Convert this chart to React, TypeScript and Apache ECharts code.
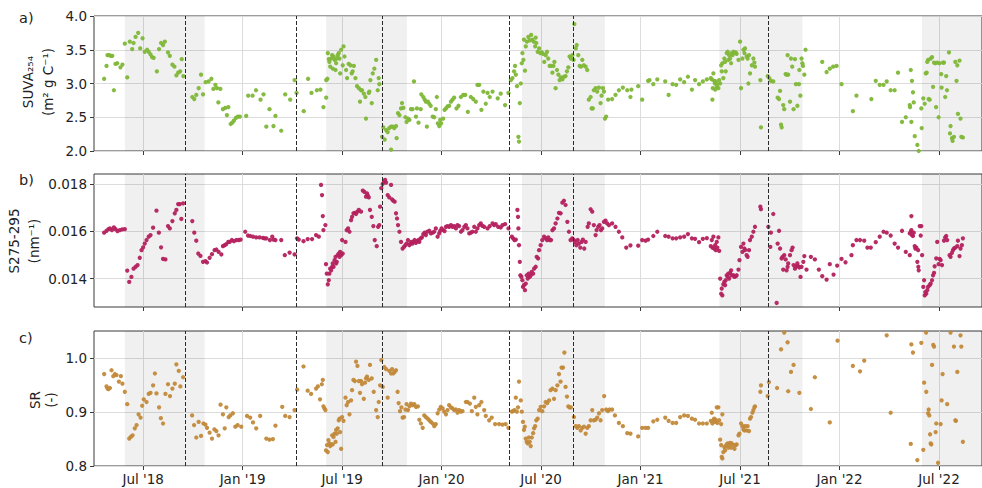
import React, { useEffect, useRef } from "react";
import * as echarts from "echarts";

// Time is expressed in decimal years
const xMin = 2018.253;
const xMax = 2022.716;
const xTickValues = [2018.5, 2019, 2019.5, 2020, 2020.5, 2021, 2021.5, 2022, 2022.5];
const shadedPeriods: [number, number][] = [
  [2018.408, 2018.809],
  [2019.42, 2019.826],
  [2020.404, 2020.821],
  [2021.396, 2021.814],
  [2022.414, 2022.716],
];
const dashedDates = [2018.706, 2019.266, 2019.697, 2020.337, 2020.661, 2021.644];

const suvaTicks = [2.0, 2.5, 3.0, 3.5, 4.0];
const slopeTicks = [0.014, 0.016, 0.018];
const srTicks = [0.8, 0.9, 1.0];

const suvaData: [number, number][] = [
  [2018.304,3.07],[2018.316,3.26],[2018.321,3.42],[2018.330,3.42],[2018.338,3.41],[2018.345,3.41],[2018.353,2.90],[2018.361,3.29],[2018.370,3.30],[2018.386,3.24],[2018.396,3.28],[2018.408,3.59],[2018.420,3.09],[2018.433,3.62],[2018.445,3.51],[2018.452,3.60],[2018.462,3.69],[2018.475,3.75],[2018.485,3.52],[2018.497,3.67],[2018.508,3.47],[2018.520,3.50],[2018.528,3.47],[2018.537,3.43],[2018.545,3.39],[2018.553,3.38],[2018.569,3.18],[2018.580,3.51],[2018.590,3.60],[2018.600,3.57],[2018.609,3.62],[2018.625,3.46],[2018.634,3.41],[2018.647,3.28],[2018.657,3.25],[2018.667,3.12],[2018.676,3.16],[2018.686,3.18],[2018.694,3.36],[2018.702,3.11],
  [2018.747,2.80],[2018.757,2.77],[2018.767,2.83],[2018.779,2.93],[2018.791,3.13],[2018.801,2.84],[2018.814,3.02],[2018.829,3.03],[2018.843,3.07],[2018.853,2.92],[2018.863,2.98],[2018.871,2.93],[2018.878,2.72],[2018.888,2.92],[2018.901,2.62],[2018.913,2.64],[2018.921,2.53],[2018.928,2.65],[2018.940,2.40],[2018.948,2.42],[2018.956,2.45],[2018.966,2.49],[2018.976,2.51],[2018.986,2.51],[2019.018,2.52],[2019.028,2.82],[2019.050,2.82],[2019.067,2.90],[2019.090,2.76],[2019.105,2.84],[2019.119,2.36],[2019.135,2.62],[2019.155,2.37],[2019.165,2.52],[2019.194,2.30],[2019.214,2.84],[2019.239,2.76],[2019.261,3.05],[2019.271,2.86],[2019.307,2.59],[2019.329,3.07],[2019.346,2.86],[2019.373,2.90],[2019.391,2.91],
  [2019.406,2.65],[2019.420,3.05],[2019.420,2.79],[2019.426,3.07],[2019.428,3.45],[2019.433,3.36],[2019.436,3.32],[2019.440,3.25],[2019.445,3.37],[2019.450,3.42],[2019.453,3.22],[2019.457,3.40],[2019.462,3.35],[2019.467,3.20],[2019.470,3.30],[2019.473,3.37],[2019.478,3.42],[2019.483,3.45],[2019.487,3.37],[2019.490,3.15],[2019.495,3.50],[2019.503,3.27],[2019.507,3.55],[2019.512,3.40],[2019.520,3.20],[2019.525,3.08],[2019.533,3.29],[2019.542,3.27],[2019.548,3.15],[2019.553,3.18],[2019.559,3.26],[2019.567,3.08],[2019.575,2.96],[2019.584,2.93],[2019.590,2.73],[2019.595,2.90],[2019.600,2.90],[2019.609,2.85],[2019.617,2.80],[2019.620,2.48],[2019.634,2.86],[2019.637,2.88],[2019.642,3.05],[2019.649,2.71],[2019.654,3.15],[2019.662,3.22],[2019.671,3.35],[2019.679,2.90],[2019.684,3.08],[2019.687,2.99],
  [2019.701,2.21],[2019.707,2.35],[2019.714,2.17],[2019.721,2.31],[2019.729,2.28],[2019.737,2.34],[2019.746,2.36],[2019.754,2.36],[2019.762,2.34],[2019.771,2.37],[2019.774,2.19],[2019.746,2.02],[2019.781,2.56],[2019.788,2.53],[2019.796,2.63],[2019.801,2.71],[2019.808,2.64],[2019.818,2.50],[2019.824,2.43],[2019.831,2.48],[2019.838,2.46],[2019.846,2.62],[2019.854,2.62],[2019.861,3.03],[2019.871,2.51],[2019.876,2.63],[2019.884,2.42],[2019.895,2.62],[2019.898,2.84],[2019.908,2.80],[2019.915,2.76],[2019.921,2.73],[2019.926,2.36],[2019.931,2.73],[2019.938,2.70],[2019.945,2.67],[2019.955,2.51],[2019.963,2.50],[2019.971,2.62],[2019.976,2.80],[2019.981,2.41],[2019.988,2.37],[2019.993,2.46],[2019.998,2.41],[2020.008,2.48],[2020.015,2.61],[2020.022,2.63],[2020.030,2.66],[2020.038,2.67],[2020.047,2.73],[2020.055,2.76],[2020.063,2.79],[2020.075,2.63],[2020.085,2.67],[2020.097,2.80],[2020.109,2.83],[2020.119,2.83],[2020.132,2.58],[2020.147,2.80],[2020.159,2.77],[2020.172,2.73],[2020.180,2.98],[2020.189,2.98],[2020.200,2.61],[2020.210,2.88],[2020.222,2.70],[2020.231,2.86],[2020.242,2.80],[2020.256,2.88],[2020.282,2.78],[2020.297,2.85],[2020.319,2.68],[2020.336,2.86],
  [2020.348,3.05],[2020.356,3.08],[2020.364,3.18],[2020.369,3.26],[2020.373,3.13],[2020.379,2.96],[2020.386,2.21],[2020.389,2.14],[2020.393,2.71],[2020.398,3.00],[2020.403,3.30],[2020.406,3.45],[2020.411,3.35],[2020.414,3.65],[2020.419,3.19],[2020.423,3.55],[2020.429,3.62],[2020.436,3.69],[2020.443,3.64],[2020.450,3.72],[2020.456,3.65],[2020.463,3.62],[2020.470,3.55],[2020.473,3.68],[2020.476,3.60],[2020.483,3.47],[2020.490,3.52],[2020.496,3.45],[2020.503,3.46],[2020.510,3.44],[2020.516,3.32],[2020.523,3.42],[2020.530,3.47],[2020.536,3.37],[2020.543,3.26],[2020.550,3.26],[2020.557,3.16],[2020.562,3.26],[2020.567,3.32],[2020.573,2.93],[2020.580,3.20],[2020.587,3.13],[2020.593,3.05],[2020.600,3.09],[2020.607,3.06],[2020.615,3.10],[2020.623,3.11],[2020.630,3.18],[2020.637,3.24],[2020.643,3.40],[2020.650,3.37],[2020.657,3.42],[2020.663,3.35],[2020.667,3.88],[2020.674,3.52],[2020.679,3.57],[2020.687,3.42],[2020.694,3.26],[2020.700,3.25],[2020.707,3.35],[2020.715,3.27],[2020.724,3.25],[2020.732,3.20],
  [2020.740,2.76],[2020.749,2.80],[2020.754,2.63],[2020.760,2.63],[2020.765,2.90],[2020.774,2.93],[2020.782,2.88],[2020.791,2.94],[2020.799,2.71],[2020.804,2.82],[2020.811,2.93],[2020.816,2.88],[2020.821,2.48],[2020.827,2.51],[2020.837,2.76],[2020.857,2.77],[2020.874,2.83],[2020.891,2.90],[2020.911,2.94],[2020.933,2.90],[2020.949,2.80],[2020.954,2.91],[2020.988,2.96],[2021.008,2.76],[2021.038,3.04],
  [2021.045,3.05],[2021.064,2.99],[2021.084,3.06],[2021.124,3.03],[2021.141,2.83],[2021.161,2.99],[2021.179,2.98],[2021.199,3.06],[2021.219,3.02],[2021.238,3.10],[2021.258,2.91],[2021.274,3.05],[2021.294,2.99],[2021.313,3.03],[2021.333,3.06],[2021.353,3.08],[2021.358,3.06],[2021.361,2.76],[2021.363,2.93],[2021.366,3.15],[2021.370,3.04],[2021.373,3.00],[2021.375,2.91],[2021.378,3.03],[2021.383,2.95],[2021.386,2.99],[2021.391,2.93],[2021.395,3.05],[2021.400,3.00],[2021.405,3.27],[2021.408,3.18],[2021.411,3.30],[2021.416,3.08],[2021.421,3.37],[2021.425,3.32],[2021.428,3.18],[2021.433,3.45],[2021.438,3.47],[2021.441,3.35],[2021.445,3.42],[2021.450,3.37],[2021.455,3.30],[2021.458,3.45],[2021.462,3.42],[2021.467,3.47],[2021.472,3.45],[2021.478,3.46],[2021.483,3.44],[2021.492,3.35],[2021.500,3.62],[2021.505,2.93],[2021.512,3.37],[2021.517,3.50],[2021.522,3.45],[2021.525,3.52],[2021.533,3.40],[2021.538,3.37],[2021.542,3.00],[2021.545,3.42],[2021.550,3.15],[2021.559,3.27],[2021.567,3.37],[2021.572,3.31],[2021.575,3.25],[2021.602,3.05],[2021.605,2.35],[2021.639,3.11],
  [2021.647,3.08],[2021.655,3.04],[2021.667,3.03],[2021.689,2.79],[2021.696,2.77],[2021.701,2.89],[2021.706,2.39],[2021.709,2.35],[2021.717,2.68],[2021.722,2.62],[2021.729,3.14],[2021.734,3.13],[2021.739,3.42],[2021.742,3.13],[2021.751,2.73],[2021.756,3.37],[2021.762,3.25],[2021.769,2.62],[2021.776,3.36],[2021.781,2.99],[2021.788,2.67],[2021.796,2.99],[2021.798,3.20],[2021.803,2.82],[2021.809,3.37],[2021.813,3.30],[2021.816,3.26],[2021.823,3.13],[2021.829,3.50],[2021.913,3.32],[2021.935,3.17],[2021.951,3.22],[2021.968,3.25],[2021.985,3.26],[2022.010,2.99],[2022.067,2.59],[2022.085,2.82],[2022.160,2.77],[2022.182,3.04],[2022.202,2.98],[2022.221,2.98],[2022.237,3.03],[2022.257,2.90],[2022.277,2.90],[2022.294,3.16],[2022.314,2.43],[2022.333,2.50],
  [2022.353,2.68],[2022.354,2.65],[2022.358,3.20],[2022.361,2.43],[2022.364,3.04],[2022.369,2.87],[2022.373,2.72],[2022.378,2.22],[2022.391,2.09],[2022.398,2.00],[2022.411,2.63],[2022.413,2.34],[2022.421,2.78],[2022.428,2.70],[2022.433,3.15],[2022.438,3.16],[2022.441,3.32],[2022.445,3.35],[2022.448,2.77],[2022.453,2.76],[2022.458,3.37],[2022.465,3.39],[2022.470,2.95],[2022.475,3.31],[2022.481,3.30],[2022.485,2.65],[2022.491,3.31],[2022.498,2.50],[2022.503,3.30],[2022.511,3.14],[2022.513,2.94],[2022.520,3.31],[2022.525,3.31],[2022.531,2.80],[2022.536,3.11],[2022.540,2.90],[2022.550,3.46],[2022.555,2.26],[2022.558,2.37],[2022.565,2.19],[2022.568,2.15],[2022.575,2.21],[2022.582,3.32],[2022.588,3.04],[2022.592,3.27],[2022.595,2.55],[2022.603,3.34],[2022.608,2.48],[2022.612,2.21],[2022.620,2.20],
];

const slopeData: [number, number][] = [
  [2018.304,0.01594],[2018.316,0.01602],[2018.326,0.01609],[2018.333,0.01612],[2018.343,0.01605],[2018.353,0.01616],[2018.361,0.01609],[2018.371,0.01601],[2018.383,0.01605],[2018.395,0.01608],[2018.408,0.01609],[2018.420,0.01434],[2018.430,0.01386],[2018.441,0.01407],[2018.452,0.01442],[2018.462,0.01450],[2018.472,0.01457],[2018.483,0.01488],[2018.492,0.01520],[2018.500,0.01532],[2018.508,0.01548],[2018.517,0.01563],[2018.528,0.01577],[2018.537,0.01584],[2018.550,0.01615],[2018.567,0.01687],[2018.579,0.01594],[2018.590,0.01532],[2018.600,0.01483],[2018.612,0.01481],[2018.625,0.01622],[2018.634,0.01612],[2018.647,0.01643],[2018.659,0.01676],[2018.667,0.01690],[2018.676,0.01715],[2018.684,0.01715],[2018.692,0.01652],[2018.701,0.01718],
  [2018.747,0.01643],[2018.757,0.01594],[2018.767,0.01560],[2018.777,0.01506],[2018.788,0.01496],[2018.801,0.01471],[2018.813,0.01474],[2018.821,0.01468],[2018.834,0.01488],[2018.846,0.01503],[2018.859,0.01520],[2018.868,0.01523],[2018.879,0.01513],[2018.893,0.01502],[2018.901,0.01537],[2018.910,0.01541],[2018.918,0.01546],[2018.928,0.01555],[2018.935,0.01555],[2018.946,0.01563],[2018.956,0.01558],[2018.968,0.01563],[2018.980,0.01563],[2018.990,0.01565],[2019.013,0.01598],[2019.027,0.01582],[2019.038,0.01580],[2019.052,0.01577],[2019.068,0.01574],[2019.085,0.01574],[2019.102,0.01572],[2019.110,0.01570],[2019.119,0.01570],[2019.137,0.01563],[2019.149,0.01577],[2019.155,0.01565],[2019.165,0.01563],[2019.194,0.01563],[2019.212,0.01499],[2019.236,0.01510],[2019.261,0.01502],[2019.274,0.01570],[2019.282,0.01565],[2019.306,0.01558],[2019.327,0.01567],[2019.349,0.01567],[2019.369,0.01584],[2019.383,0.01577],[2019.394,0.01796],[2019.399,0.01753],[2019.403,0.01664],[2019.406,0.01605],[2019.416,0.01626],[2019.419,0.01461],[2019.423,0.01421],[2019.428,0.01376],
  [2019.433,0.01393],[2019.436,0.01421],[2019.440,0.01442],[2019.445,0.01435],[2019.450,0.01450],[2019.453,0.01464],[2019.457,0.01450],[2019.462,0.01478],[2019.467,0.01492],[2019.470,0.01464],[2019.473,0.01471],[2019.478,0.01499],[2019.483,0.01506],[2019.487,0.01492],[2019.490,0.01513],[2019.495,0.01499],[2019.500,0.01563],[2019.503,0.01506],[2019.517,0.01555],[2019.523,0.01605],[2019.530,0.01612],[2019.537,0.01598],[2019.545,0.01647],[2019.550,0.01661],[2019.557,0.01676],[2019.564,0.01678],[2019.570,0.01673],[2019.577,0.01683],[2019.584,0.01690],[2019.595,0.01683],[2019.604,0.01772],[2019.612,0.01766],[2019.620,0.01746],[2019.625,0.01760],[2019.629,0.01752],[2019.634,0.01743],[2019.640,0.01690],[2019.649,0.01661],[2019.657,0.01622],[2019.664,0.01563],[2019.674,0.01537],[2019.681,0.01619],[2019.687,0.01626],[2019.691,0.01704],
  [2019.697,0.01782],[2019.704,0.01800],[2019.711,0.01810],[2019.716,0.01817],[2019.721,0.01806],[2019.729,0.01753],[2019.737,0.01743],[2019.746,0.01796],[2019.751,0.01735],[2019.757,0.01729],[2019.764,0.01725],[2019.771,0.01676],[2019.776,0.01654],[2019.781,0.01626],[2019.788,0.01598],[2019.796,0.01555],[2019.804,0.01527],[2019.811,0.01534],[2019.818,0.01541],[2019.824,0.01548],[2019.831,0.01563],[2019.838,0.01541],[2019.843,0.01548],[2019.848,0.01555],[2019.854,0.01548],[2019.859,0.01555],[2019.864,0.01563],[2019.871,0.01551],[2019.876,0.01558],[2019.883,0.01563],[2019.888,0.01555],[2019.895,0.01570],[2019.901,0.01574],[2019.908,0.01588],[2019.915,0.01594],[2019.921,0.01584],[2019.928,0.01598],[2019.938,0.01602],[2019.946,0.01591],[2019.955,0.01594],[2019.963,0.01598],[2019.971,0.01612],[2019.980,0.01577],[2019.988,0.01591],[2019.993,0.01602],[2020.000,0.01612],[2020.008,0.01605],[2020.015,0.01601],[2020.022,0.01619],[2020.030,0.01622],[2020.038,0.01619],[2020.047,0.01626],[2020.055,0.01619],[2020.063,0.01622],[2020.072,0.01612],[2020.080,0.01626],[2020.088,0.01622],[2020.097,0.01598],[2020.105,0.01605],[2020.114,0.01619],[2020.122,0.01626],[2020.130,0.01612],[2020.139,0.01591],[2020.147,0.01594],[2020.155,0.01598],[2020.164,0.01619],[2020.172,0.01598],[2020.180,0.01612],[2020.189,0.01626],[2020.197,0.01633],[2020.205,0.01623],[2020.214,0.01619],[2020.231,0.01612],[2020.242,0.01622],[2020.256,0.01633],[2020.264,0.01626],[2020.272,0.01630],[2020.284,0.01619],[2020.297,0.01616],[2020.306,0.01626],[2020.319,0.01630],[2020.336,0.01612],
  [2020.353,0.01577],[2020.359,0.01570],[2020.366,0.01563],[2020.373,0.01565],[2020.381,0.01690],[2020.384,0.01661],[2020.386,0.01612],[2020.389,0.01541],[2020.393,0.01471],[2020.396,0.01414],[2020.401,0.01407],[2020.406,0.01393],[2020.409,0.01365],[2020.414,0.01372],[2020.419,0.01351],[2020.423,0.01379],[2020.428,0.01414],[2020.433,0.01400],[2020.438,0.01421],[2020.443,0.01407],[2020.448,0.01414],[2020.453,0.01428],[2020.460,0.01421],[2020.465,0.01442],[2020.473,0.01450],[2020.478,0.01492],[2020.485,0.01485],[2020.490,0.01520],[2020.498,0.01541],[2020.506,0.01563],[2020.515,0.01577],[2020.523,0.01570],[2020.530,0.01563],[2020.536,0.01574],[2020.543,0.01563],[2020.550,0.01563],[2020.557,0.01605],[2020.565,0.01612],[2020.573,0.01633],[2020.582,0.01654],[2020.590,0.01678],[2020.598,0.01676],[2020.607,0.01721],[2020.615,0.01729],[2020.623,0.01711],[2020.632,0.01640],[2020.640,0.01598],[2020.648,0.01563],[2020.657,0.01570],
  [2020.665,0.01563],[2020.670,0.01555],[2020.677,0.01541],[2020.684,0.01563],[2020.690,0.01548],[2020.697,0.01531],[2020.704,0.01555],[2020.710,0.01565],[2020.717,0.01527],[2020.724,0.01555],[2020.734,0.01619],[2020.740,0.01633],[2020.749,0.01693],[2020.757,0.01683],[2020.765,0.01626],[2020.774,0.01584],[2020.779,0.01605],[2020.787,0.01619],[2020.794,0.01626],[2020.801,0.01605],[2020.807,0.01612],[2020.816,0.01640],[2020.824,0.01645],[2020.832,0.01633],[2020.841,0.01626],[2020.857,0.01633],[2020.874,0.01619],[2020.891,0.01598],[2020.908,0.01574],[2020.928,0.01531],[2020.949,0.01540],[2020.988,0.01539],[2021.008,0.01563],[2021.025,0.01560],[2021.038,0.01565],
  [2021.064,0.01580],[2021.084,0.01598],[2021.124,0.01580],[2021.141,0.01577],[2021.161,0.01570],[2021.179,0.01570],[2021.199,0.01574],[2021.219,0.01577],[2021.238,0.01588],[2021.258,0.01570],[2021.274,0.01568],[2021.294,0.01554],[2021.313,0.01568],[2021.333,0.01571],[2021.353,0.01537],[2021.358,0.01563],[2021.361,0.01531],[2021.366,0.01577],[2021.370,0.01527],[2021.375,0.01541],[2021.378,0.01520],[2021.383,0.01555],[2021.386,0.01531],[2021.391,0.01574],[2021.395,0.01517],[2021.400,0.01400],[2021.405,0.01336],[2021.408,0.01358],[2021.411,0.01329],[2021.416,0.01376],[2021.421,0.01386],[2021.425,0.01372],[2021.428,0.01393],[2021.433,0.01414],[2021.438,0.01407],[2021.441,0.01421],[2021.445,0.01400],[2021.450,0.01424],[2021.455,0.01435],[2021.458,0.01414],[2021.467,0.01414],[2021.472,0.01407],[2021.478,0.01410],[2021.483,0.01414],[2021.492,0.01438],[2021.497,0.01478],[2021.505,0.01534],[2021.512,0.01513],[2021.517,0.01548],[2021.522,0.01527],[2021.525,0.01520],[2021.533,0.01499],[2021.538,0.01492],[2021.545,0.01520],[2021.550,0.01563],[2021.559,0.01577],[2021.567,0.01598],[2021.575,0.01619],[2021.602,0.01704],[2021.605,0.01693],
  [2021.642,0.01619],[2021.652,0.01534],[2021.655,0.01594],[2021.667,0.01673],[2021.684,0.01297],[2021.689,0.01548],[2021.696,0.01602],[2021.701,0.01527],[2021.709,0.01485],[2021.714,0.01492],[2021.717,0.01438],[2021.722,0.01499],[2021.729,0.01481],[2021.734,0.01435],[2021.739,0.01450],[2021.742,0.01464],[2021.751,0.01499],[2021.759,0.01520],[2021.764,0.01531],[2021.769,0.01457],[2021.776,0.01442],[2021.781,0.01452],[2021.788,0.01464],[2021.793,0.01452],[2021.798,0.01447],[2021.804,0.01407],[2021.809,0.01450],[2021.818,0.01471],[2021.823,0.01495],[2021.834,0.01438],[2021.856,0.01492],[2021.876,0.01481],[2021.896,0.01438],[2021.913,0.01410],[2021.935,0.01396],[2021.951,0.01461],[2021.970,0.01417],[2021.988,0.01455],[2022.010,0.01483],[2022.030,0.01469],[2022.060,0.01499],[2022.067,0.01541],[2022.085,0.01563],[2022.103,0.01563],[2022.124,0.01560],[2022.140,0.01531],[2022.157,0.01531],[2022.182,0.01554],[2022.202,0.01577],[2022.221,0.01598],[2022.237,0.01594],[2022.257,0.01582],[2022.277,0.01548],[2022.294,0.01531],[2022.314,0.01602],[2022.333,0.01513],
  [2022.353,0.01591],[2022.353,0.01499],[2022.358,0.01598],[2022.361,0.01605],[2022.361,0.01664],[2022.364,0.01584],[2022.369,0.01580],[2022.373,0.01594],[2022.378,0.01537],[2022.381,0.01527],[2022.386,0.01531],[2022.391,0.01471],[2022.395,0.01520],[2022.396,0.01450],[2022.398,0.01435],[2022.403,0.01622],[2022.408,0.01582],[2022.411,0.01622],[2022.415,0.01499],[2022.421,0.01365],[2022.425,0.01393],[2022.428,0.01329],[2022.431,0.01343],[2022.436,0.01336],[2022.441,0.01351],[2022.445,0.01365],[2022.453,0.01372],[2022.458,0.01379],[2022.465,0.01393],[2022.470,0.01414],[2022.475,0.01424],[2022.478,0.01452],[2022.486,0.01485],[2022.491,0.01555],[2022.498,0.01461],[2022.503,0.01483],[2022.508,0.01478],[2022.515,0.01457],[2022.525,0.01560],[2022.531,0.01574],[2022.536,0.01580],[2022.541,0.01563],[2022.553,0.01499],[2022.558,0.01492],[2022.565,0.01509],[2022.570,0.01520],[2022.575,0.01527],[2022.582,0.01531],[2022.592,0.01537],[2022.595,0.01560],[2022.603,0.01495],[2022.608,0.01527],[2022.615,0.01541],[2022.620,0.01570],
];

const srData: [number, number][] = [
  [2018.304,0.971],[2018.316,0.948],[2018.321,0.944],[2018.326,0.943],[2018.333,0.945],[2018.341,0.978],[2018.350,0.967],[2018.358,0.971],[2018.366,0.969],[2018.378,0.957],[2018.388,0.967],[2018.396,0.953],[2018.408,0.938],[2018.420,0.915],[2018.430,0.851],[2018.438,0.854],[2018.447,0.857],[2018.458,0.870],[2018.467,0.876],[2018.477,0.896],[2018.487,0.890],[2018.495,0.912],[2018.503,0.924],[2018.517,0.919],[2018.528,0.934],[2018.537,0.936],[2018.550,0.950],[2018.559,0.972],[2018.567,0.935],[2018.580,0.909],[2018.589,0.889],[2018.600,0.879],[2018.612,0.934],[2018.625,0.952],[2018.635,0.930],[2018.647,0.944],[2018.659,0.953],[2018.667,0.989],[2018.679,0.977],[2018.687,0.948],[2018.701,0.965],
  [2018.746,0.894],[2018.756,0.876],[2018.767,0.853],[2018.779,0.882],[2018.791,0.856],[2018.803,0.879],[2018.813,0.877],[2018.821,0.871],[2018.834,0.862],[2018.846,0.851],[2018.858,0.868],[2018.868,0.865],[2018.879,0.857],[2018.889,0.914],[2018.901,0.896],[2018.910,0.870],[2018.918,0.909],[2018.930,0.891],[2018.938,0.894],[2018.951,0.898],[2018.963,0.873],[2018.975,0.876],[2018.993,0.873],[2019.022,0.893],[2019.038,0.890],[2019.052,0.881],[2019.068,0.870],[2019.088,0.893],[2019.119,0.851],[2019.135,0.849],[2019.152,0.850],[2019.165,0.875],[2019.199,0.910],[2019.214,0.893],[2019.236,0.891],[2019.261,0.904],[2019.274,0.942],[2019.306,0.985],[2019.327,0.940],[2019.344,0.934],[2019.369,0.944],[2019.378,0.948],[2019.389,0.924],[2019.398,0.952],[2019.403,0.960],[2019.406,0.911],[2019.411,0.907],[2019.416,0.904],[2019.419,0.829],[2019.424,0.839],[2019.428,0.826],[2019.431,0.848],
  [2019.436,0.842],[2019.440,0.837],[2019.445,0.840],[2019.450,0.857],[2019.453,0.840],[2019.457,0.854],[2019.462,0.860],[2019.467,0.845],[2019.470,0.867],[2019.473,0.860],[2019.478,0.870],[2019.483,0.885],[2019.487,0.888],[2019.490,0.863],[2019.495,0.832],[2019.500,0.891],[2019.507,0.884],[2019.517,0.927],[2019.523,0.913],[2019.530,0.919],[2019.537,0.896],[2019.545,0.922],[2019.550,0.941],[2019.557,0.960],[2019.564,0.958],[2019.570,0.994],[2019.577,0.986],[2019.584,0.958],[2019.590,0.936],[2019.595,0.958],[2019.600,0.952],[2019.609,0.925],[2019.615,0.955],[2019.620,0.963],[2019.625,0.966],[2019.634,0.960],[2019.640,0.988],[2019.649,0.963],[2019.659,0.938],[2019.671,0.904],[2019.679,0.891],[2019.684,0.919],[2019.691,0.950],[2019.697,0.997],
  [2019.704,0.947],[2019.712,0.984],[2019.721,0.980],[2019.729,0.927],[2019.737,0.977],[2019.746,0.972],[2019.751,0.980],[2019.757,0.972],[2019.764,0.975],[2019.771,0.978],[2019.779,0.938],[2019.784,0.917],[2019.791,0.902],[2019.798,0.909],[2019.804,0.890],[2019.811,0.891],[2019.818,0.905],[2019.824,0.915],[2019.831,0.904],[2019.838,0.911],[2019.846,0.916],[2019.854,0.913],[2019.863,0.915],[2019.871,0.910],[2019.881,0.911],[2019.888,0.886],[2019.896,0.879],[2019.905,0.871],[2019.913,0.894],[2019.921,0.891],[2019.930,0.888],[2019.938,0.885],[2019.946,0.882],[2019.955,0.879],[2019.963,0.874],[2019.971,0.878],[2019.980,0.898],[2019.988,0.905],[2019.996,0.910],[2020.005,0.907],[2020.013,0.901],[2020.022,0.896],[2020.030,0.904],[2020.038,0.913],[2020.047,0.909],[2020.055,0.907],[2020.063,0.904],[2020.072,0.905],[2020.080,0.899],[2020.088,0.904],[2020.097,0.901],[2020.105,0.902],[2020.122,0.919],[2020.130,0.919],[2020.142,0.916],[2020.152,0.902],[2020.164,0.927],[2020.172,0.910],[2020.180,0.896],[2020.189,0.913],[2020.200,0.919],[2020.214,0.904],[2020.222,0.893],[2020.239,0.885],[2020.252,0.890],[2020.269,0.878],[2020.289,0.878],[2020.306,0.877],[2020.322,0.878],[2020.336,0.871],
  [2020.353,0.901],[2020.359,0.902],[2020.366,0.904],[2020.373,0.927],[2020.378,0.901],[2020.384,0.909],[2020.389,0.957],[2020.398,0.922],[2020.403,0.901],[2020.409,0.882],[2020.414,0.867],[2020.418,0.873],[2020.423,0.851],[2020.428,0.845],[2020.433,0.842],[2020.438,0.853],[2020.443,0.845],[2020.448,0.837],[2020.453,0.853],[2020.460,0.861],[2020.465,0.870],[2020.470,0.874],[2020.476,0.885],[2020.483,0.888],[2020.490,0.904],[2020.498,0.910],[2020.506,0.902],[2020.515,0.911],[2020.523,0.919],[2020.531,0.917],[2020.540,0.922],[2020.548,0.941],[2020.557,0.944],[2020.565,0.925],[2020.573,0.941],[2020.582,0.950],[2020.590,0.971],[2020.598,0.957],[2020.603,0.983],[2020.610,0.983],[2020.617,1.011],[2020.623,0.947],[2020.630,0.929],[2020.637,0.911],[2020.643,0.909],[2020.650,0.909],
  [2020.665,0.891],[2020.674,0.874],[2020.682,0.871],[2020.690,0.874],[2020.699,0.866],[2020.707,0.871],[2020.715,0.873],[2020.724,0.860],[2020.732,0.871],[2020.740,0.874],[2020.749,0.885],[2020.757,0.904],[2020.765,0.885],[2020.774,0.886],[2020.782,0.890],[2020.791,0.898],[2020.799,0.885],[2020.807,0.904],[2020.817,0.930],[2020.827,0.905],[2020.836,0.902],[2020.844,0.905],[2020.857,0.905],[2020.871,0.894],[2020.891,0.880],[2020.911,0.874],[2020.933,0.861],[2020.949,0.860],[2020.988,0.855],[2021.008,0.871],[2021.025,0.871],[2021.038,0.871],
  [2021.064,0.883],[2021.084,0.886],[2021.124,0.890],[2021.141,0.884],[2021.161,0.880],[2021.179,0.880],[2021.199,0.891],[2021.219,0.894],[2021.238,0.893],[2021.258,0.888],[2021.274,0.886],[2021.294,0.879],[2021.313,0.879],[2021.333,0.879],[2021.353,0.884],[2021.358,0.899],[2021.361,0.879],[2021.366,0.885],[2021.370,0.888],[2021.375,0.882],[2021.378,0.886],[2021.383,0.909],[2021.386,0.880],[2021.391,0.909],[2021.395,0.885],[2021.405,0.878],[2021.411,0.896],
  [2021.400,0.849],[2021.405,0.839],[2021.408,0.817],[2021.411,0.814],[2021.416,0.826],[2021.421,0.835],[2021.425,0.829],[2021.428,0.837],[2021.433,0.840],[2021.438,0.842],[2021.441,0.834],[2021.445,0.839],[2021.450,0.843],[2021.455,0.834],[2021.458,0.842],[2021.467,0.839],[2021.472,0.832],[2021.478,0.839],[2021.483,0.840],[2021.492,0.857],[2021.497,0.860],[2021.505,0.879],[2021.512,0.874],[2021.517,0.868],[2021.522,0.866],[2021.525,0.874],[2021.533,0.866],[2021.538,0.874],[2021.545,0.865],[2021.550,0.888],[2021.555,0.891],[2021.562,0.899],[2021.567,0.904],[2021.572,0.909],[2021.575,0.911],[2021.602,0.938],[2021.605,0.950],[2021.639,0.930],[2021.645,0.956],
  [2021.686,0.945],[2021.706,1.017],[2021.722,1.048],[2021.739,1.030],[2021.742,0.939],[2021.756,0.975],[2021.769,0.988],[2021.798,0.936],[2021.856,0.906],[2021.876,0.965],[2021.951,0.881],[2021.990,1.033],[2022.067,0.986],[2022.103,0.976],[2022.124,0.996],[2022.237,1.043],[2022.257,0.899],[2022.358,0.841],[2022.361,1.026],[2022.369,1.011],[2022.391,0.811],[2022.411,1.029],[2022.421,0.830],[2022.425,0.955],[2022.435,1.048],[2022.436,0.938],[2022.445,0.898],[2022.448,0.905],[2022.451,0.894],[2022.455,0.859],[2022.458,0.842],[2022.461,0.840],[2022.465,0.988],[2022.471,1.025],[2022.475,1.022],[2022.483,0.863],[2022.486,0.879],[2022.495,0.806],[2022.508,0.878],[2022.513,0.922],[2022.518,0.971],[2022.541,0.915],[2022.558,1.048],[2022.575,1.022],[2022.582,0.885],[2022.585,0.884],[2022.592,0.975],[2022.608,1.043],[2022.612,1.022],[2022.620,0.845],
];

const FONT = '"DejaVu Sans", "Noto Sans", sans-serif';
const TEXT = "#222";
const SPINE = "#3a3a3a";
const GRIDLINE = "#dcdcdc";

const panels = [
  { data: suvaData, color: "#80b738", min: 2.0, max: 4.0, ticks: suvaTicks, digits: 1, top: 16, height: 135 },
  { data: slopeData, color: "#b4215e", min: 0.0128, max: 0.01842, ticks: slopeTicks, digits: 3, top: 174, height: 133 },
  { data: srData, color: "#c2893a", min: 0.8, max: 1.051, ticks: srTicks, digits: 1, top: 331, height: 135 },
];

function xLabel(v: number): string {
  const half = Math.round(v * 2) / 2;
  const yr = Math.floor(half);
  const isJan = Math.abs(half - yr) < 0.01;
  return (isJan ? "Jan" : "Jul") + " '" + String(yr).slice(2);
}

export default function App() {
  const ref = useRef<HTMLDivElement>(null);
  useEffect(() => {
    if (!ref.current) return;
    const chart = echarts.init(ref.current, undefined, { renderer: "svg" });

    const grid = panels.map((p) => ({
      left: 94,
      right: -2,
      top: p.top,
      height: p.height,
      show: true,
      borderColor: SPINE,
      borderWidth: 1,
      backgroundColor: "transparent",
    }));

    const xAxis = panels.map((p, i) => ({
      type: "value",
      gridIndex: i,
      min: xMin,
      max: xMax,
      axisLine: { show: false },
      axisTick: { show: true, length: 4, inside: false, lineStyle: { color: SPINE }, customValues: xTickValues },
      axisLabel: {
        show: i === 2,
        customValues: xTickValues,
        formatter: xLabel,
        fontSize: 13.5,
        fontFamily: FONT,
        color: TEXT,
        margin: 6,
      },
      splitLine: { show: true, lineStyle: { color: GRIDLINE, width: 1 } },
    }));

    const yAxis = panels.map((p, i) => ({
      type: "value",
      gridIndex: i,
      min: p.min,
      max: p.max,
      axisLine: { show: false },
      axisTick: { show: true, length: 4, lineStyle: { color: SPINE }, customValues: p.ticks },
      axisLabel: {
        customValues: p.ticks,
        formatter: (v: number) => v.toFixed(p.digits),
        fontSize: 13.5,
        fontFamily: FONT,
        color: TEXT,
        margin: 7,
      },
      splitLine: { show: true, lineStyle: { color: GRIDLINE, width: 1 } },
    }));

    const series: any[] = [];
    panels.forEach((p, i) => {
      series.push({
        type: "line",
        xAxisIndex: i,
        yAxisIndex: i,
        data: [],
        z: 1,
        silent: true,
        markArea: {
          silent: true,
          itemStyle: { color: "rgba(0,0,0,0.058)" },
          data: shadedPeriods.map(([a, b]) => [{ xAxis: a }, { xAxis: b }]),
        },
        markLine: {
          silent: true,
          symbol: ["none", "none"],
          label: { show: false },
          lineStyle: { type: [4, 2], color: "#2a2a2a", width: 1 },
          data: dashedDates.map((d) => ({ xAxis: d })),
        },
      });
      series.push({
        type: "scatter",
        xAxisIndex: i,
        yAxisIndex: i,
        data: p.data,
        symbol: "circle",
        symbolSize: 4.3,
        itemStyle: { color: p.color, opacity: 0.95 },
        z: 3,
        silent: true,
      });
    });

    const rotText = (text: string, x: number, y: number) => ({
      type: "text",
      x,
      y,
      rotation: Math.PI / 2,
      style: { text, fill: TEXT, font: `13.5px ${FONT}`, align: "center", verticalAlign: "middle" },
    });
    const plainText = (text: string, x: number, y: number) => ({
      type: "text",
      x,
      y,
      style: { text, fill: TEXT, font: `14.5px ${FONT}`, align: "left", verticalAlign: "middle" },
    });

    chart.setOption({
      animation: false,
      grid,
      xAxis,
      yAxis,
      series,
      graphic: [
        plainText("a)", 19, 18),
        plainText("b)", 19, 180),
        plainText("c)", 19, 338),
        rotText("SUVA₂₅₄", 28, 82),
        rotText("(m² g C⁻¹)", 48, 82),
        rotText("S275-295", 14, 241),
        rotText("(nm⁻¹)", 34, 241),
        rotText("SR", 35, 400),
        rotText("(-)", 51, 400),
      ],
    });
    return () => chart.dispose();
  }, []);
  return <div ref={ref} style={{ position: "absolute", left: 0, top: 0, width: 982, height: 488 }} />;
}
